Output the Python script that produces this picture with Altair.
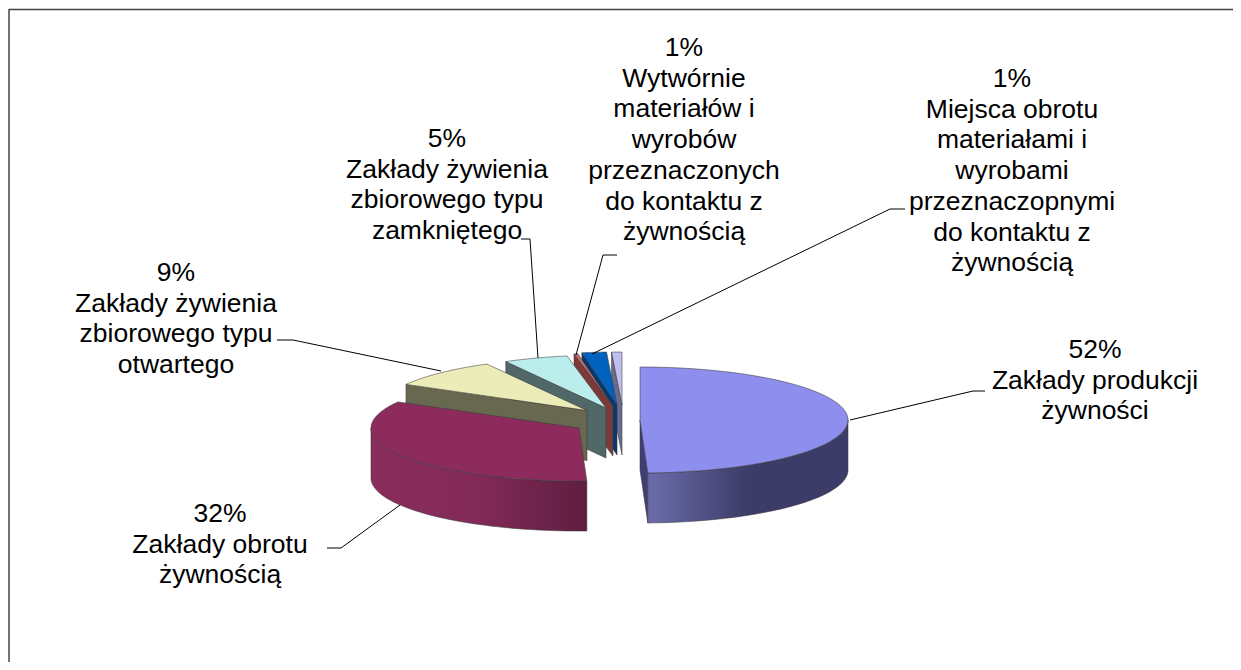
import math
import altair as alt
import pandas as pd

# ---- values ----
categories = ["Zakłady produkcji żywności", "Zakłady obrotu żywnością",
              "Zakłady żywienia zbiorowego typu otwartego",
              "Zakłady żywienia zbiorowego typu zamkniętego",
              "Wytwórnie materiałów", "Miejsca obrotu materiałami", "Pozostałe"]
shares = [49.4, 33.8, 8.8, 5.0, 0.3, 1.9, 0.8]   # drawn size of each slice, %

label_texts = ["52%\nZakłady produkcji\nżywności",
               "32%\nZakłady obrotu\nżywnością",
               "9%\nZakłady żywienia\nzbiorowego typu\notwartego",
               "5%\nZakłady żywienia\nzbiorowego typu\nzamkniętego",
               "1%\nWytwórnie\nmateriałów i\nwyrobów\nprzeznaczonych\ndo kontaktu z\nżywnością",
               "1%\nMiejsca obrotu\nmateriałami i\nwyrobami\nprzeznaczopnymi\ndo kontaktu z\nżywnością"]

# ---- layout / style ----
W, H = 1241, 670
PW, PH = W - 16, H - 16
RX, RY, DEPTH = 208, 53, 50
apex = [(640, 420), (579, 428), (587, 410.5), (606, 408), (613, 406), (617, 405), (622, 405)]
top_colors = ["#8E8EEE", "#8D2C5C", "#ECECB8", "#BBEDED", "#C46A6A", "#0062BE", "#C0C0F0"]
face_colors = ["#3F3F78", None, "#686850", "#506868", "#7A3A3A", "#003A70", "#6B6B8F"]
rim_stops = {0: ["#6C6CAC", "#3C3C68", "#3C3C68"], 1: ["#5E1E40", "#822A58", "#8A2C5C"]}
label_x = [1095, 220, 176, 447, 684, 1012]
label_y = [337, 501, 260, 126, 35, 66]
leaders = [[(850, 420), (973, 391), (985, 391)],
           [(400, 505), (341, 548), (327, 548)],
           [(441, 371), (293, 340), (277, 340)],
           [(538, 358), (530, 239), (521, 239)],
           [(576, 355), (603, 255), (617, 255)],
           [(592, 354), (890, 209), (905, 209)]]
frame_top = [(9, 9.5), (8 + PW, 9.5)]
frame_left = [(9, 9), (9, 8 + PH)]

X = alt.X("x:Q", scale=alt.Scale(domain=[8, 8 + PW], range=[0, PW], nice=False, zero=False), axis=None)
Y = alt.Y("y:Q", scale=alt.Scale(domain=[8, 8 + PH], range=[0, PH], nice=False, zero=False), axis=None)


def polyline(points, **mark):
    df = pd.DataFrame({"x": [p[0] for p in points],
                       "y": [p[1] for p in points],
                       "i": range(len(points))})
    return alt.Chart(df).mark_line(**mark).encode(x=X, y=Y, order="i:Q")


def poly(points, **mark):
    return polyline(list(points) + [points[0]], **mark)


# slice angles from the shares, clockwise from the top
angles = [0.0]
for s in shares:
    angles.append(angles[-1] + s * 3.6)


def rim_point(k, deg, dy=0):
    t = math.radians(deg)
    return (apex[k][0] + RX * math.sin(t), apex[k][1] - RY * math.cos(t) + dy)


def arc_pts(k, a0, a1, dy=0, n=48):
    return [rim_point(k, a0 + (a1 - a0) * j / n, dy) for j in range(n + 1)]


def gradient(colors):
    return alt.Gradient(gradient="linear", x1=0, x2=1, y1=0, y2=0,
                        stops=[alt.GradientStop(color=c, offset=o)
                               for c, o in zip(colors, [0, 0.5, 1])])


EDGE = dict(stroke="#3a3a3a", strokeWidth=0.7, strokeOpacity=0.8)
layers = [polyline(frame_top, stroke="#404040", strokeWidth=1.5),
          polyline(frame_left, stroke="#505050", strokeWidth=1.6)]

# back slices first, front slices last
for k in [6, 5, 4, 3, 2]:
    a0, a1 = angles[k], angles[k + 1]
    ax, ay = apex[k]
    p0 = rim_point(k, a0)
    layers.append(poly([p0, (ax, ay), (ax, ay + DEPTH), (p0[0], p0[1] + DEPTH)],
                       fill=face_colors[k], **EDGE))
    layers.append(poly([(ax, ay)] + arc_pts(k, a0, a1), fill=top_colors[k], **EDGE))

# second slice: outer wall from the left extreme to its front end
k = 1
a0, a1 = angles[1], angles[2]
layers.append(poly(arc_pts(k, a0, 270) + arc_pts(k, a0, 270, DEPTH)[::-1],
                   fill=gradient(rim_stops[1][::-1]), **EDGE))
layers.append(poly([apex[k]] + arc_pts(k, a0, a1), fill=top_colors[k], **EDGE))

# first slice: cut face, outer wall, top
k = 0
a0, a1 = angles[0], angles[1]
ax, ay = apex[k]
p1 = rim_point(k, a1)
layers.append(poly([(ax, ay), p1, (p1[0], p1[1] + DEPTH), (ax, ay + DEPTH)],
                   fill=face_colors[k], **EDGE))
layers.append(poly(arc_pts(k, a1, 90) + arc_pts(k, a1, 90, DEPTH)[::-1],
                   fill=gradient(rim_stops[0]), **EDGE))
layers.append(poly([apex[k]] + arc_pts(k, a0, a1), fill=top_colors[k], **EDGE))

# leader lines
for line in leaders:
    layers.append(polyline(line, stroke="#000000", strokeWidth=1))

# labels
labels = pd.DataFrame({"x": label_x, "y": label_y, "t": label_texts})
layers.append(alt.Chart(labels).mark_text(
    font="Liberation Sans", fontSize=26.5, color="#000000", align="center", baseline="top",
    lineBreak="\n", lineHeight=30.7).encode(x=X, y=Y, text="t:N"))

chart = alt.layer(*layers).properties(
    width=PW, height=PH, padding=0, background="#ffffff",
    autosize=alt.AutoSizeParams(type="none"),
).configure_view(stroke=None)

chart.save("out.html", embed_options={"renderer": "svg", "actions": False})
